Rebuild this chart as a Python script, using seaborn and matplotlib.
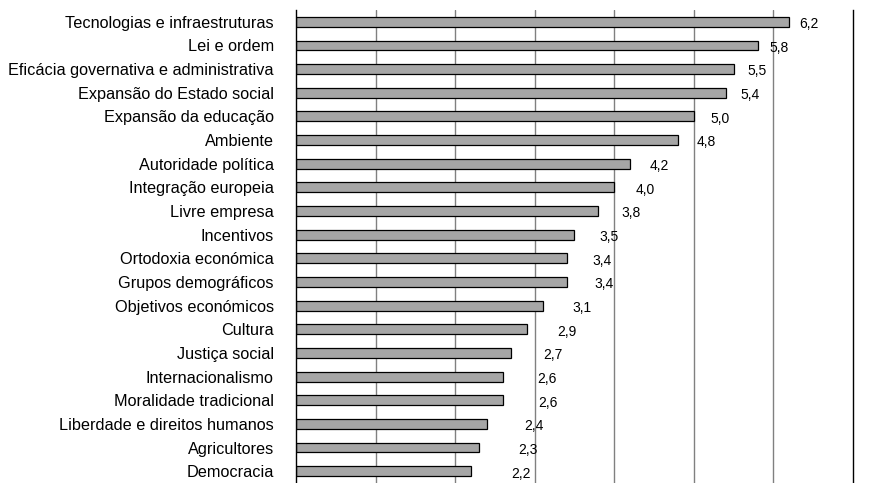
import numpy as np
import pandas as pd
import matplotlib
matplotlib.use("Agg")
import matplotlib.pyplot as plt
from matplotlib.ticker import FixedLocator
import seaborn as sns

categories = [
    "Tecnologias e infraestruturas",
    "Lei e ordem",
    "Eficácia governativa e administrativa",
    "Expansão do Estado social",
    "Expansão da educação",
    "Ambiente",
    "Autoridade política",
    "Integração europeia",
    "Livre empresa",
    "Incentivos",
    "Ortodoxia económica",
    "Grupos demográficos",
    "Objetivos económicos",
    "Cultura",
    "Justiça social",
    "Internacionalismo",
    "Moralidade tradicional",
    "Liberdade e direitos humanos",
    "Agricultores",
    "Democracia",
]
values = [6.2, 5.8, 5.5, 5.4, 5.0, 4.8, 4.2, 4.0, 3.8, 3.5,
          3.4, 3.4, 3.1, 2.9, 2.7, 2.6, 2.6, 2.4, 2.3, 2.2]
value_labels = ["6,2", "5,8", "5,5", "5,4", "5,0", "4,8", "4,2", "4,0", "3,8", "3,5",
                "3,4", "3,4", "3,1", "2,9", "2,7", "2,6", "2,6", "2,4", "2,3", "2,2"]

df = pd.DataFrame({"categoria": categories, "valor": values})

sns.set_style("white")
plt.rcParams["font.family"] = ["Liberation Sans", "DejaVu Sans"]

fig = plt.figure(figsize=(8.79, 4.83), dpi=100)
ax = fig.add_axes([296 / 879, 0.0, (853 - 296) / 879, 1 - 10 / 483])

sns.barplot(data=df, x="valor", y="categoria", orient="h", color="#a6a6a6",
            edgecolor="black", linewidth=0.9, width=0.42, saturation=1, ax=ax)

ax.set_xlim(0, 7)
ax.set_ylim(len(categories) - 0.5, -0.5)
ax.set_xlabel("")
ax.set_ylabel("")
ax.set_xticks([])

# vertical gridlines
for gx in range(1, 7):
    ax.axvline(gx, color="#808080", lw=1, zorder=0)

for side in ["top", "bottom"]:
    ax.spines[side].set_visible(False)
for side in ["left", "right"]:
    ax.spines[side].set_visible(True)
    ax.spines[side].set_color("black")
    ax.spines[side].set_linewidth(1)

# labels at the centres, small ticks between categories
ax.tick_params(axis="y", which="major", length=0, pad=16, labelsize=11.7, colors="black")
ax.yaxis.set_minor_locator(FixedLocator(np.arange(-0.5, len(categories), 1.0)))
ax.tick_params(axis="y", which="minor", length=5, width=1, color="#404040", direction="out")

# value labels, drifting right the way the original does
for i, (v, lab) in enumerate(zip(values, value_labels)):
    ax.text(v + 0.25 + 0.02 * i, i + 0.1, lab, ha="center", va="center",
            fontsize=10, color="black")

fig.savefig("out.png", dpi=100)
